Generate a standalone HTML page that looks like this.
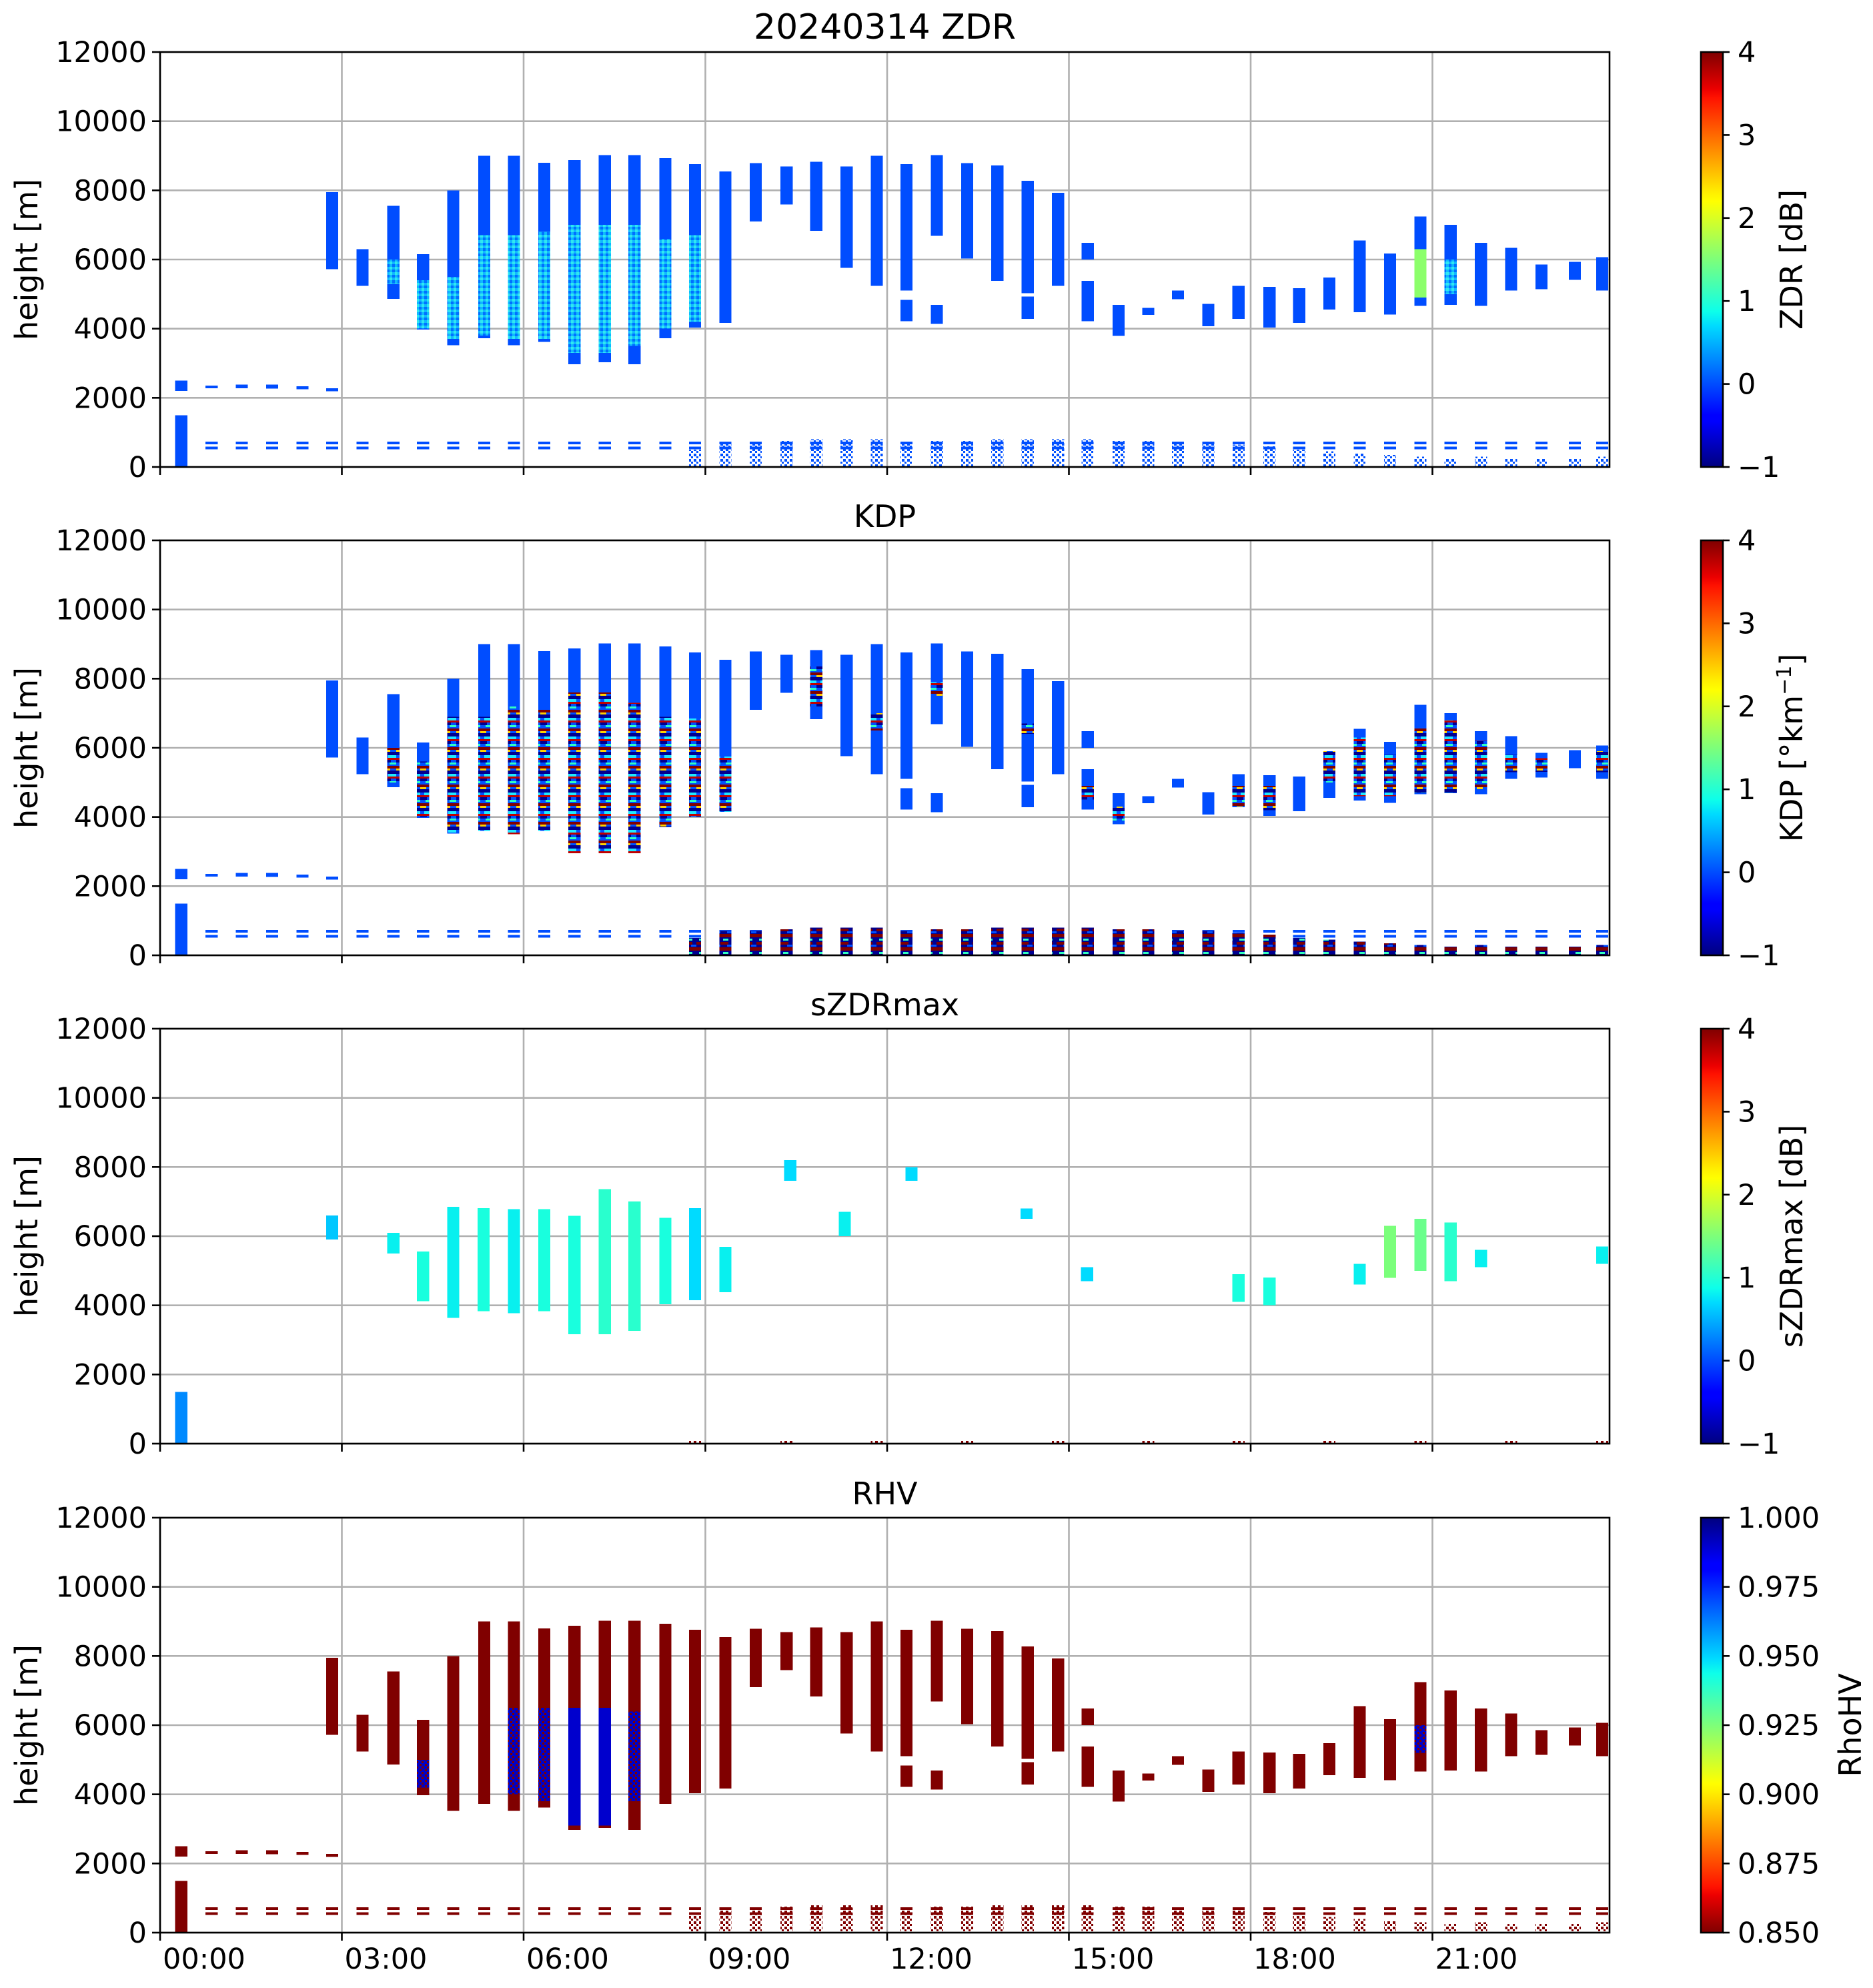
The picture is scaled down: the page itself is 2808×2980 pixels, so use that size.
<!DOCTYPE html>
<html><head><meta charset="utf-8">
<style>
html,body{margin:0;padding:0;background:#fff;}
svg{display:block;font-family:"DejaVu Sans","Liberation Sans",sans-serif;}
</style></head>
<body>
<svg id="fig" xmlns="http://www.w3.org/2000/svg" width="2808" height="2980" viewBox="0 0 2808 2980">
<defs>
<linearGradient id="jet" x1="0" y1="1" x2="0" y2="0">
<stop offset="0" stop-color="#000080"/><stop offset="0.11" stop-color="#0000ff"/><stop offset="0.125" stop-color="#0000ff"/>
<stop offset="0.34" stop-color="#00dbff"/><stop offset="0.375" stop-color="#0dffea"/><stop offset="0.5" stop-color="#7dff7a"/>
<stop offset="0.64" stop-color="#ffff00"/><stop offset="0.66" stop-color="#fff000"/><stop offset="0.89" stop-color="#ff1200"/>
<stop offset="0.91" stop-color="#ed0000"/><stop offset="1" stop-color="#800000"/>
</linearGradient>
<linearGradient id="jetr" x1="0" y1="0" x2="0" y2="1">
<stop offset="0" stop-color="#000080"/><stop offset="0.11" stop-color="#0000ff"/><stop offset="0.125" stop-color="#0000ff"/>
<stop offset="0.34" stop-color="#00dbff"/><stop offset="0.375" stop-color="#0dffea"/><stop offset="0.5" stop-color="#7dff7a"/>
<stop offset="0.64" stop-color="#ffff00"/><stop offset="0.66" stop-color="#fff000"/><stop offset="0.89" stop-color="#ff1200"/>
<stop offset="0.91" stop-color="#ed0000"/><stop offset="1" stop-color="#800000"/>
</linearGradient>
<pattern id="kdpSpeckle" patternUnits="userSpaceOnUse" width="18" height="28">
<rect width="18" height="28" fill="#0050ff"/>
<rect y="0" width="18" height="4" fill="#800000"/><rect y="4" width="9" height="3" fill="#ffd000"/>
<rect y="7" width="18" height="5" fill="#000090"/><rect x="6" y="12" width="12" height="4" fill="#20e8ff"/>
<rect y="16" width="18" height="3" fill="#c00000"/><rect y="19" width="10" height="4" fill="#000090"/>
<rect x="8" y="23" width="10" height="3" fill="#30ffc0"/>
</pattern>
<pattern id="kdpLow" patternUnits="userSpaceOnUse" width="18" height="20">
<rect width="18" height="20" fill="#000090"/><rect y="0" width="18" height="5" fill="#800000"/>
<rect x="4" y="7" width="8" height="3" fill="#30ffc0"/><rect y="12" width="12" height="4" fill="#800000"/>
<rect x="10" y="16" width="8" height="3" fill="#0050ff"/>
</pattern>
<pattern id="blueDots" patternUnits="userSpaceOnUse" width="8" height="8">
<rect width="4" height="4" fill="#0050ff"/><rect x="4" y="4" width="3" height="3" fill="#0050ff"/>
</pattern>
<pattern id="redDots" patternUnits="userSpaceOnUse" width="8" height="8">
<rect width="4" height="4" fill="#800000"/><rect x="4" y="4" width="3" height="3" fill="#800000"/>
</pattern>
<pattern id="zdrCore" patternUnits="userSpaceOnUse" width="8" height="8">
<rect width="8" height="8" fill="#10b8ff"/><rect width="4" height="4" fill="#30e8f0"/><rect x="4" y="4" width="4" height="4" fill="#0070ff"/>
</pattern>
<pattern id="rhvCore" patternUnits="userSpaceOnUse" width="8" height="8">
<rect width="8" height="8" fill="#0000c8"/><rect width="3" height="3" fill="#800000"/><rect x="5" y="4" width="3" height="3" fill="#800000"/>
</pattern>
</defs>
</svg>
<script>
// ---------- data ----------
const colTime = [2.74,3.24,3.75,4.24,4.74,5.25,5.74,6.24,6.74,7.24,7.73,8.24,8.73,9.23,9.73,10.24,10.73,11.23,11.73,12.22,12.72,13.22,13.72,14.22,14.72,15.21,15.72,16.21,16.70,17.20,17.70,18.21,18.70,19.20,19.70,20.20,20.70,21.20,21.70,22.20,22.70,23.25,23.70];
const colTop  = [7950,6300,7550,6150,8000,9000,9000,8800,8870,9020,9020,8930,8760,8550,8790,8690,8830,8690,9000,8760,9020,8790,8720,8280,7930,5380,4690,4600,5100,4720,5240,5210,5170,5480,6550,6170,7240,7000,6480,6340,5860,5930,6070];
const colBot  = [5720,5240,4860,3970,3520,3720,3520,3620,2970,3030,2970,3720,4030,4170,7100,7590,6830,5760,5240,5100,6690,6030,5380,5030,5240,4210,3790,4400,4850,4070,4280,4030,4170,4550,4480,4410,4660,4690,4660,5100,5140,5410,5100];
const extraTime = [0.25,12.22,12.72,14.22,15.21,0.25,0.75,1.25,1.75,2.25,2.74];
const extraTop  = [1500,4830,4690,4930,6480,2500,2350,2380,2380,2330,2280];
const extraBot  = [0,4210,4140,4280,6000,2200,2280,2280,2270,2250,2190];
const zdrCoreTime = [3.75,4.24,4.74,5.25,5.74,6.24,6.74,7.24,7.73,8.24,8.73,20.70,21.20];
const zdrCoreTop  = [6000,5400,5500,6700,6700,6800,7000,7000,7000,6600,6700,6300,6000];
const zdrCoreBot  = [5300,4000,3700,3800,3700,3700,3300,3300,3500,4000,4200,4900,5000];
const zdrCoreVal  = [0.5,0.5,0.5,0.5,0.6,0.5,0.6,0.6,0.6,0.5,0.5,1.6,0.8];
const kdpCoreTime = [3.75,4.24,4.74,5.25,5.74,6.24,6.74,7.24,7.73,8.24,8.73,9.23,10.73,11.73,12.72,14.22,15.21,15.72,17.70,18.21,19.20,19.70,20.20,20.70,21.20,21.70,22.20,22.70,23.70];
const kdpCoreTop  = [6000,5600,6900,6900,7200,7100,7600,7600,7300,6900,6850,5750,8350,7000,7900,6700,4900,4300,4900,4900,5900,6300,5800,6600,6800,6200,5800,5700,5900];
const kdpCoreBot  = [5000,4000,3550,3600,3500,3600,2950,2950,2950,3700,4000,4150,7200,6500,7500,6400,4500,3900,4300,4200,5000,4600,4600,4700,4700,4800,5300,5300,5300];
const lowTime = [8.73,9.23,9.73,10.24,10.73,11.23,11.73,12.22,12.72,13.22,13.72,14.22,14.72,15.21,15.72,16.21,16.70,17.20,17.70,18.21,18.70,19.20,19.70,20.20,20.70,21.20,21.70,22.20,22.70,23.25,23.70];
const lowTop  = [500,700,700,750,800,800,800,700,750,750,800,800,800,800,750,750,700,700,650,600,500,450,400,350,300,250,300,250,250,250,300];
const sTime = [2.74,3.75,4.24,4.74,5.24,5.74,6.24,6.74,7.24,7.73,8.24,8.73,9.23,10.30,11.20,12.30,14.20,15.20,17.70,18.21,19.70,20.20,20.70,21.20,21.70,23.70,0.25];
const sTop  = [6600,6100,5560,6850,6810,6780,6780,6590,7360,7000,6530,6810,5690,8200,6700,8000,6800,5100,4900,4800,5200,6300,6500,6400,5600,5700,1500];
const sBot  = [5900,5500,4120,3640,3830,3770,3830,3160,3160,3260,4030,4150,4380,7600,6000,7600,6500,4700,4100,4000,4600,4800,5000,4700,5100,5200,0];
const sVal  = [0.6,0.8,0.9,0.8,0.9,0.8,0.9,0.9,1.0,1.0,0.9,0.7,0.8,0.7,0.8,0.7,0.7,0.7,0.9,0.9,0.8,1.5,1.4,1.0,0.8,0.8,0.3];
const rhvCoreTime = [4.24,5.74,6.24,6.74,7.24,7.73,20.70];
const rhvCoreTop  = [5000,6500,6500,6500,6500,6400,6000];
const rhvCoreBot  = [4200,4000,3800,3100,3100,3800,5200];
const rhvCoreVal  = [0.985,0.975,0.975,0.99,0.99,0.975,0.975];
const dashTime = [0.75,1.25,1.75,2.25,2.74,3.24,3.75,4.24,4.74,5.25,5.74,6.24,6.74,7.24,7.73,8.24,8.73,9.23,9.73,10.24,10.73,11.23,11.73,12.22,12.72,13.22,13.72,14.22,14.72,15.21,15.72,16.21,16.70,17.20,17.70,18.21,18.70,19.20,19.70,20.20,20.70,21.20,21.70,22.20,22.70,23.25,23.70];
const dashHeights = [690,550];
const xTickHours = [0,3,6,9,12,15,18,21];
const xTickLabels = ["00:00","03:00","06:00","09:00","12:00","15:00","18:00","21:00"];
const yTicks = [0,2000,4000,6000,8000,10000,12000];
const cbTicksA = [-1,0,1,2,3,4];
const cbTicksR = [0.850,0.875,0.900,0.925,0.950,0.975,1.000];

// ---------- layout ----------
const NS = "http://www.w3.org/2000/svg";
const svg = document.getElementById('fig');
const AX_L = 240, AX_R = 2413, AX_H = 622;
const PANEL_TOP = [78, 810, 1542, 2275];
const HOUR_PX = 272.5/3, COLW = 0.2;
const CB_L = 2550, CB_W = 33;
function xs(t){ return AX_L + t*HOUR_PX; }
function ys(p,h){ return PANEL_TOP[p] + (12000-h)*AX_H/12000; }
function jet(v){
  v=Math.max(0,Math.min(1,v));
  const r = v<0.35?0:(v<0.66?(v-0.35)/0.31:(v<0.89?1:1-(v-0.89)/0.22));
  const g = v<0.125?0:(v<0.375?(v-0.125)/0.25:(v<0.64?1:(v<0.91?1-(v-0.64)/0.27:0)));
  const b = v<0.11?0.5+v/0.22:(v<0.34?1:(v<0.65?1-(v-0.34)/0.31:0));
  const h=c=>Math.round(c*255).toString(16).padStart(2,'0');
  return '#'+h(r)+h(g)+h(b);
}
function el(tag, attrs, parent){
  const e=document.createElementNS(NS,tag);
  for(const k in attrs) e.setAttribute(k,attrs[k]);
  (parent||svg).appendChild(e); return e;
}
function seg(g,p,t,top,bot,fill,w){
  const y1=ys(p,top), y2=ys(p,bot);
  return el('rect',{x:xs(t).toFixed(1),y:y1.toFixed(1),width:((w||COLW)*HOUR_PX).toFixed(1),height:Math.max(2,y2-y1).toFixed(1),fill:fill},g);
}
const normA = v => (v+1)/5;
const normR = v => 1-(v-0.85)/0.15;

const panels = [
  {title:"20240314 ZDR", cb:"ZDR [dB]", tsize:52},
  {title:"KDP", cb:"KDP [°km<tspan baseline-shift='super' font-size='30'>−1</tspan>]", tsize:46},
  {title:"sZDRmax", cb:"sZDRmax [dB]", tsize:46},
  {title:"RHV", cb:"RhoHV", tsize:46}
];

panels.forEach((P,p)=>{
  const top=PANEL_TOP[p], bot=top+AX_H;
  const g=el('g',{});
  
  
  const grid=el('g',{stroke:'#b0b0b0','stroke-width':2.6},g);
  
  
  yTicks.forEach(v=>{ el('line',{x1:AX_L,x2:AX_R,y1:ys(p,v),y2:ys(p,v)},grid); });
  xTickHours.forEach(hh=>{ el('line',{x1:xs(hh),x2:xs(hh),y1:top,y2:bot},grid); });
  const d=el('g',{'shape-rendering':'crispEdges'},g);
  
  
  if(p===2){
    sTime.forEach((t,i)=>{ const r=seg(d,p,t,sTop[i],sBot[i],jet(normA(sVal[i])));
      
       });
    lowTime.forEach((t,i)=>{ if(i%3===0){ const r=seg(d,p,t,100,0,'url(#redDots)');
      
       }});
  } else {
    const main = p===3 ? jet(normR(0.85)) : jet(normA(0));
    const dots = p===3 ? 'url(#redDots)' : 'url(#blueDots)';
    colTime.forEach((t,i)=>{ const r=seg(d,p,t,colTop[i],colBot[i],main);
      
       });
    extraTime.forEach((t,i)=>{ const r=seg(d,p,t,extraTop[i],extraBot[i],main);
      
       });
    dashTime.forEach(t=>{ dashHeights.forEach(hh=>{
      const r=el('rect',{x:xs(t),y:ys(p,hh)-2,width:COLW*HOUR_PX,height:4,fill:main},d);
      
       }); });
    lowTime.forEach((t,i)=>{ const r=seg(d,p,t,lowTop[i],0,p===1?'url(#kdpLow)':dots);
      
       });
    if(p===0){
      zdrCoreTime.forEach((t,i)=>{ const r=seg(d,p,t,zdrCoreTop[i],zdrCoreBot[i],zdrCoreVal[i]>1?jet(normA(zdrCoreVal[i])):'url(#zdrCore)');
        
         });
    } else if(p===1){
      kdpCoreTime.forEach((t,i)=>{ const r=seg(d,p,t,kdpCoreTop[i],kdpCoreBot[i],'url(#kdpSpeckle)');
        
         });
    } else {
      rhvCoreTime.forEach((t,i)=>{ const r=seg(d,p,t,rhvCoreTop[i],rhvCoreBot[i],rhvCoreVal[i]>0.985?jet(normR(rhvCoreVal[i])):'url(#rhvCore)');
        
         });
    }
  }
  const sp=el('rect',{x:AX_L,y:top,width:AX_R-AX_L,height:AX_H,fill:'none',stroke:'#000','stroke-width':2.6},g);
  
  
  yTicks.forEach(v=>{
    el('line',{x1:AX_L-12,x2:AX_L,y1:ys(p,v),y2:ys(p,v),stroke:'#000','stroke-width':2.6},g);
    const tx=el('text',{x:AX_L-20,y:ys(p,v)+15,'text-anchor':'end','font-size':43},g);
    tx.textContent=v;
    
    
  });
  xTickHours.forEach((hh,i)=>{
    el('line',{x1:xs(hh),x2:xs(hh),y1:bot,y2:bot+12,stroke:'#000','stroke-width':2.6},g);
    if(p===3){
      const tx=el('text',{x:xs(hh)+4,y:2951,'font-size':43},g);
      tx.textContent=xTickLabels[i];
      
      
    }
  });
  const yl=el('text',{x:0,y:0,'font-size':46,'text-anchor':'middle',transform:`translate(56,${top+AX_H/2}) rotate(-90)`},g);
  yl.textContent='height [m]';
  
  
  const tt=el('text',{x:(AX_L+AX_R)/2,y:top-20,'font-size':P.tsize,'text-anchor':'middle'},g);
  tt.textContent=P.title;
  
  
  const cb=el('g',{},g);
  
  
  el('rect',{x:CB_L,y:top,width:CB_W,height:AX_H,fill:p===3?'url(#jetr)':'url(#jet)',stroke:'#000','stroke-width':2.6},cb);
  const ticks = p===3?cbTicksR:cbTicksA;
  ticks.forEach(v=>{
    const yy = p===3 ? bot-(v-0.85)/0.15*AX_H : bot-(v+1)/5*AX_H;
    el('line',{x1:CB_L+CB_W,x2:CB_L+CB_W+10,y1:yy,y2:yy,stroke:'#000','stroke-width':2.6},cb);
    const tx=el('text',{x:CB_L+CB_W+22,y:yy+15,'font-size':43},cb);
    tx.textContent = p===3 ? v.toFixed(3) : (v<0?'−'+Math.abs(v):String(v));
    
    
  });
  const cl=el('text',{x:0,y:0,'font-size':46,'text-anchor':'middle',transform:`translate(${p===3?2790:2702},${top+AX_H/2}) rotate(-90)`},cb);
  cl.innerHTML=P.cb;
  
  
});
</script>
</body></html>
